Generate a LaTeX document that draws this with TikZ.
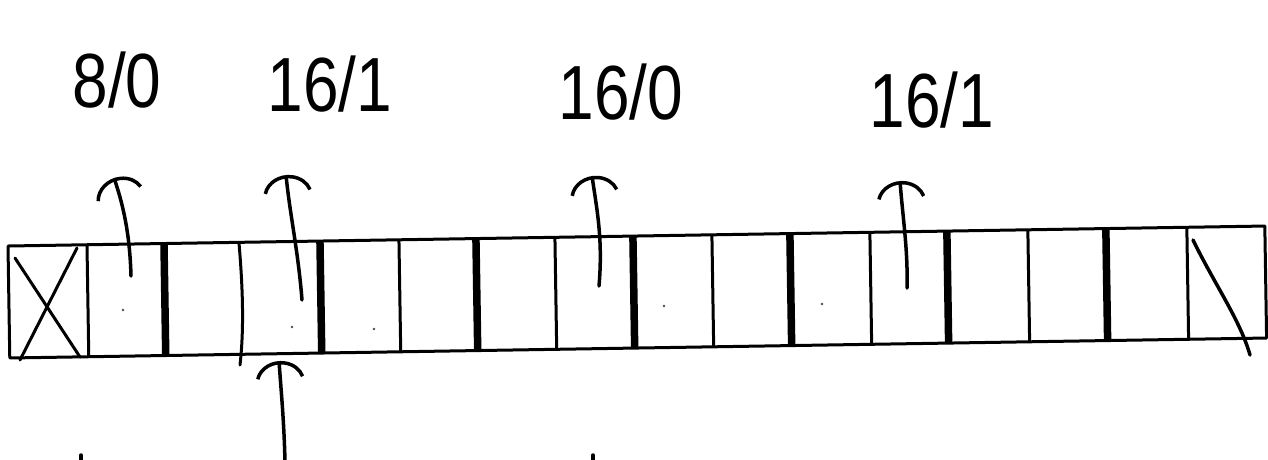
\documentclass[tikz,border=0pt]{standalone}
\usepackage{graphicx}
\usepackage{fontspec}
\setmainfont{Liberation Sans}
\usetikzlibrary{arrows.meta}
\newcommand{\tallnum}[1]{\scalebox{1}[1.2]{#1}}
\begin{document}
\begin{tikzpicture}[x=1pt,y=-1pt,
  frame/.style={line width=3pt, line join=round},
  thinrule/.style={line width=3pt},
  thickrule/.style={line width=7.5pt},
  pen/.style={line width=3.5pt, line cap=round, line join=round},
  uparrow/.style={pen, -{Arc Barb[arc=150,length=22pt,width=50pt]}},
  lab/.style={font=\fontsize{64}{64}\selectfont, inner sep=0pt},
  speck/.style={fill=black!70}]
\useasboundingbox (0,0) rectangle (1268,459);
\fill[white] (0,0) rectangle (1268,459);

% the strip of 16 cells, slightly tilted
\begin{scope}[shift={(8,246)}, rotate=0.91]
  \draw[frame] (0,0) rectangle (1257,112);
  \foreach \x in {79,391,547,704,862,1020,1179}
    \draw[thinrule] (\x,0) -- (\x,112);
  \foreach \x in {156,312,468,625,782,939,1098}
    \draw[thickrule] (\x,0) -- (\x,112);
\end{scope}

% hand-drawn divider between cells 3 and 4
\draw[pen, line width=3pt] (239,243) .. controls (243,290) and (244,330) .. (240,365);
% cross in first cell
\draw[pen, line width=3pt] (15,258) -- (80,357);
\draw[pen, line width=3pt] (77,248) -- (20,360);
% stroke in last cell
\draw[pen] (1193,240) .. controls (1215,285) and (1240,320) .. (1250,355);

% faint specks
\foreach \p in {(123,310),(292,327),(374,329),(664,306),(822,304)}
  \fill[speck] \p circle (1.3);

% labels
\node[lab] (l1) at (117,80) {\tallnum{8/0}};
\node[lab] (l2) at (330,84) {\tallnum{16/1}};
\node[lab] (l3) at (621,92) {\tallnum{16/0}};
\node[lab] (l4) at (932,100) {\tallnum{16/1}};

% arrow starts (inside cells) and tips
\coordinate (s1) at (131,276);
\coordinate (t1) at (114,178);
\coordinate (s2) at (302,300);
\coordinate (t2) at (286,175);
\coordinate (s3) at (599,286);
\coordinate (t3) at (592,176);
\coordinate (s4) at (907,288);
\coordinate (t4) at (900,181);
\coordinate (sb) at (285,462);
\coordinate (tb) at (279,361);

\draw[uparrow] (s1) .. controls (130,240) and (125,210) .. (t1);
\draw[uparrow] (s2) .. controls (298,250) and (290,215) .. (t2);
\draw[uparrow] (s3) .. controls (603,240) and (597,210) .. (t3);
\draw[uparrow] (s4) .. controls (908,250) and (903,220) .. (t4);
\draw[uparrow] (sb) .. controls (284,420) and (281,390) .. (tb);

% cut-off arrow stubs at the lower edge
\coordinate (b1) at (81,455);
\coordinate (b2) at (593,455);
\draw[pen] (b1) -- ++(0,6);
\draw[pen] (b2) -- ++(0,6);
\end{tikzpicture}
\end{document}
